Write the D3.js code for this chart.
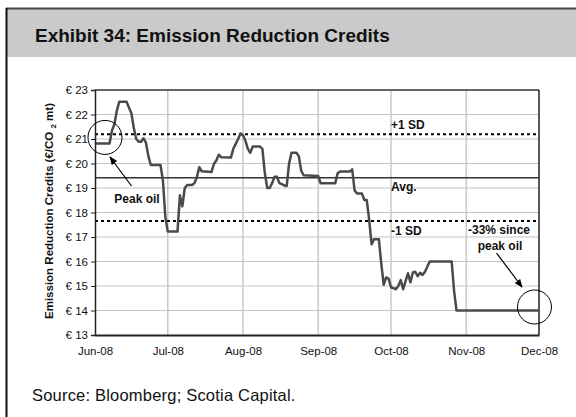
<!DOCTYPE html>
<html>
<head>
<meta charset="utf-8">
<script src="https://cdn.jsdelivr.net/npm/d3@7/dist/d3.min.js"></script>
<style>
  html, body { margin: 0; padding: 0; background: #fff; }
  svg { display: block; font-family: Arial, "Liberation Sans", sans-serif; }
</style>
</head>
<body>
<svg id="chart" width="576" height="417"></svg>
<script>
// Daily settlement prices of Emission Reduction Credits (EUR per tonne CO2)
const dates = [
  "2008-06-01","2008-06-07","2008-06-08","2008-06-09","2008-06-10","2008-06-11",
  "2008-06-14","2008-06-15","2008-06-16","2008-06-17","2008-06-18","2008-06-19",
  "2008-06-20","2008-06-21","2008-06-22","2008-06-23","2008-06-24","2008-06-28",
  "2008-06-29","2008-06-30","2008-07-01","2008-07-02","2008-07-05","2008-07-06",
  "2008-07-07","2008-07-08","2008-07-09","2008-07-11","2008-07-12","2008-07-13",
  "2008-07-14","2008-07-15","2008-07-19","2008-07-20","2008-07-21","2008-07-22",
  "2008-07-23","2008-07-27","2008-07-28","2008-07-29","2008-07-30","2008-07-31",
  "2008-08-01","2008-08-02","2008-08-03","2008-08-04","2008-08-05","2008-08-08",
  "2008-08-09","2008-08-10","2008-08-11","2008-08-12","2008-08-13","2008-08-14",
  "2008-08-15","2008-08-16","2008-08-17","2008-08-18","2008-08-19","2008-08-20",
  "2008-08-21","2008-08-23","2008-08-24","2008-08-25","2008-08-26","2008-09-01",
  "2008-09-02","2008-09-08","2008-09-09","2008-09-10","2008-09-14","2008-09-15",
  "2008-09-16","2008-09-17","2008-09-19","2008-09-20","2008-09-21","2008-09-22",
  "2008-09-23","2008-09-24","2008-09-26","2008-09-27","2008-09-28","2008-09-29",
  "2008-09-30","2008-10-01","2008-10-03","2008-10-04","2008-10-05","2008-10-06",
  "2008-10-07","2008-10-08","2008-10-09","2008-10-10","2008-10-11","2008-10-12",
  "2008-10-13","2008-10-14","2008-10-15","2008-10-16","2008-10-17","2008-10-26",
  "2008-10-27","2008-10-28","2008-12-01"
];
const prices = [
  20.82, 20.82, 21.35, 21.60, 22.15, 22.52,
  22.52, 22.28, 22.05, 21.45, 21.00, 20.89,
  20.89, 21.03, 20.85, 20.30, 19.94, 19.94,
  19.30, 17.80, 17.22, 17.22, 17.22, 18.70,
  18.25, 19.00, 19.12, 19.12, 19.20, 19.45,
  19.85, 19.68, 19.65, 19.98, 20.12, 20.36,
  20.26, 20.24, 20.60, 20.80, 21.00, 21.23,
  21.15, 20.93, 20.60, 20.44, 20.69, 20.69,
  20.60, 19.60, 19.00, 19.00, 19.20, 19.46,
  19.46, 19.20, 19.16, 19.10, 19.08, 20.00,
  20.44, 20.44, 20.30, 19.70, 19.52, 19.49,
  19.19, 19.19, 19.60, 19.67, 19.67, 19.76,
  18.90, 18.78, 18.78, 18.51, 18.51, 17.70,
  16.70, 16.91, 16.91, 15.90, 15.05, 15.35,
  15.30, 14.95, 14.87, 15.00, 15.24, 14.87,
  15.20, 15.52, 15.15, 15.55, 15.58, 15.40,
  15.54, 15.45, 15.58, 15.80, 16.00, 16.00,
  14.80, 14.00, 14.00
];

// Reference levels over the period
const averageLevel = 19.42;
const sdBand = 1.77;

// Axis ticks
const yTicks = [13, 14, 15, 16, 17, 18, 19, 20, 21, 22, 23];
const monthTicks = ["2008-06-01","2008-07-01","2008-08-01","2008-09-01","2008-10-01","2008-11-01","2008-12-01"];
const monthLabels = ["Jun-08","Jul-08","Aug-08","Sep-08","Oct-08","Nov-08","Dec-08"];

const parse = d3.utcParse("%Y-%m-%d");
const series = dates.map((d, i) => ({ date: parse(d), value: prices[i] }));
const tickDates = monthTicks.map(parse);

const svg = d3.select("#chart");
const W = 576, H = 417;
const plot = { left: 95, right: 539, top: 90, bottom: 335 };
const FONT = "Arial, 'Liberation Sans', sans-serif";

svg.append("rect").attr("width", W).attr("height", H).attr("fill", "#fff");

// Exhibit frame and title band
svg.append("rect").attr("x", 7).attr("y", 9).attr("width", W - 7).attr("height", 48).attr("fill", "#cacaca");
svg.append("line").attr("x1", 6).attr("x2", W).attr("y1", 8.5).attr("y2", 8.5)
  .attr("stroke", "#444").attr("stroke-width", 2);
svg.append("line").attr("x1", 6.5).attr("x2", 6.5).attr("y1", 8).attr("y2", H)
  .attr("stroke", "#111").attr("stroke-width", 2);

svg.append("text").attr("x", 35).attr("y", 42)
  .attr("font-size", 19).attr("font-weight", "bold").attr("fill", "#111")
  .text("Exhibit 34: Emission Reduction Credits");

svg.append("text").attr("x", 32).attr("y", 401)
  .attr("font-size", 16.5).attr("letter-spacing", 0.2).attr("fill", "#111")
  .text("Source: Bloomberg; Scotia Capital.");

// Scales
const x = d3.scaleUtc().domain([tickDates[0], tickDates[tickDates.length - 1]]).range([plot.left, plot.right]);
const y = d3.scaleLinear().domain([13, 23]).range([plot.bottom, plot.top]);

// Gridlines
const grid = svg.append("g");
grid.selectAll("line.h").data(yTicks.slice(1, -1)).join("line")
  .attr("x1", plot.left).attr("x2", plot.right)
  .attr("y1", d => y(d)).attr("y2", d => y(d))
  .attr("stroke", "#c4c4c4").attr("stroke-width", 1);
grid.selectAll("line.v").data(tickDates.slice(1, -1)).join("line")
  .attr("x1", d => x(d)).attr("x2", d => x(d))
  .attr("y1", plot.top).attr("y2", plot.bottom)
  .attr("stroke", "#c8c8c8").attr("stroke-width", 1.5);

// Plot border (top and right)
svg.append("line").attr("x1", plot.left).attr("x2", plot.right).attr("y1", plot.top).attr("y2", plot.top)
  .attr("stroke", "#666").attr("stroke-width", 2);
svg.append("line").attr("x1", plot.right).attr("x2", plot.right).attr("y1", plot.top).attr("y2", plot.bottom)
  .attr("stroke", "#222").attr("stroke-width", 1.5);

// Average and +/- 1 SD reference lines
svg.append("line").attr("x1", plot.left).attr("x2", plot.right)
  .attr("y1", y(averageLevel)).attr("y2", y(averageLevel))
  .attr("stroke", "#333").attr("stroke-width", 1.5);
[averageLevel + sdBand, averageLevel - sdBand].forEach(v => {
  svg.append("line").attr("x1", plot.left).attr("x2", plot.right)
    .attr("y1", y(v)).attr("y2", y(v))
    .attr("stroke", "#000").attr("stroke-width", 2).attr("stroke-dasharray", "3,3");
});

// Price line
const line = d3.line().x(d => x(d.date)).y(d => y(d.value));
svg.append("path").datum(series).attr("d", line)
  .attr("fill", "none").attr("stroke", "#4a4a4a").attr("stroke-width", 2.5)
  .attr("stroke-linejoin", "round");

// Y axis
const yAxis = d3.axisLeft(y).tickValues(yTicks).tickSize(4).tickPadding(3)
  .tickFormat(d => "€ " + d);
const gy = svg.append("g").attr("transform", `translate(${plot.left},0)`).call(yAxis);
gy.select(".domain").attr("stroke", "#222").attr("stroke-width", 1.5);
gy.selectAll(".tick line").attr("stroke", "#222");
gy.selectAll(".tick text").attr("font-size", 11.5).attr("fill", "#111").attr("font-family", FONT);

// X axis
const xAxis = d3.axisBottom(x).tickValues(tickDates).tickSize(0).tickPadding(12)
  .tickFormat((d, i) => monthLabels[i]);
const gx = svg.append("g").attr("transform", `translate(0,${plot.bottom})`).call(xAxis);
gx.select(".domain").attr("stroke", "#222").attr("stroke-width", 2);
gx.selectAll(".tick text").attr("font-size", 11.5).attr("fill", "#111").attr("font-family", FONT);

// Y axis title
const yt = svg.append("text").attr("transform", "translate(53,211) rotate(-90)")
  .attr("text-anchor", "middle").attr("font-size", 11.5).attr("font-weight", "bold").attr("fill", "#111");
yt.append("tspan").text("Emission Reduction Credits (€/CO ");
yt.append("tspan").attr("font-size", 8).attr("dy", 3).text("2");
yt.append("tspan").attr("dy", -3).text(" mt)");

// Annotations
const ann = svg.append("g").attr("font-size", 12).attr("font-weight", "bold").attr("fill", "#111");
ann.append("text").attr("x", 391).attr("y", y(averageLevel + sdBand) - 5).text("+1 SD");
ann.append("text").attr("x", 391).attr("y", y(averageLevel) + 13).text("Avg.");
ann.append("text").attr("x", 391).attr("y", y(averageLevel - sdBand) + 14).text("-1 SD");
ann.append("text").attr("x", 137).attr("y", 203).attr("text-anchor", "middle").text("Peak oil");
ann.append("text").attr("x", 499).attr("y", 234).attr("text-anchor", "middle").text("-33% since");
ann.append("text").attr("x", 500).attr("y", 250).attr("text-anchor", "middle").text("peak oil");

const first = series[0], last = series[series.length - 1];
svg.append("circle").attr("cx", x(first.date) + 10).attr("cy", y(first.value) - 6).attr("r", 17)
  .attr("fill", "none").attr("stroke", "#000").attr("stroke-width", 1);
svg.append("circle").attr("cx", x(last.date) - 4.5).attr("cy", y(last.value) - 3.5).attr("r", 17)
  .attr("fill", "none").attr("stroke", "#000").attr("stroke-width", 1);

svg.append("defs").append("marker").attr("id", "arrow")
  .attr("viewBox", "0 0 10 10").attr("refX", 9).attr("refY", 5)
  .attr("markerWidth", 7).attr("markerHeight", 7).attr("orient", "auto")
  .append("path").attr("d", "M0,1 L10,5 L0,9 Z").attr("fill", "#000");

svg.append("line").attr("x1", 131.5).attr("y1", 186).attr("x2", 110).attr("y2", 157)
  .attr("stroke", "#000").attr("stroke-width", 1.2).attr("marker-end", "url(#arrow)");
svg.append("line").attr("x1", 496.5).attr("y1", 253).attr("x2", 522).attr("y2", 287)
  .attr("stroke", "#000").attr("stroke-width", 1.2).attr("marker-end", "url(#arrow)");
</script>
</body>
</html>
